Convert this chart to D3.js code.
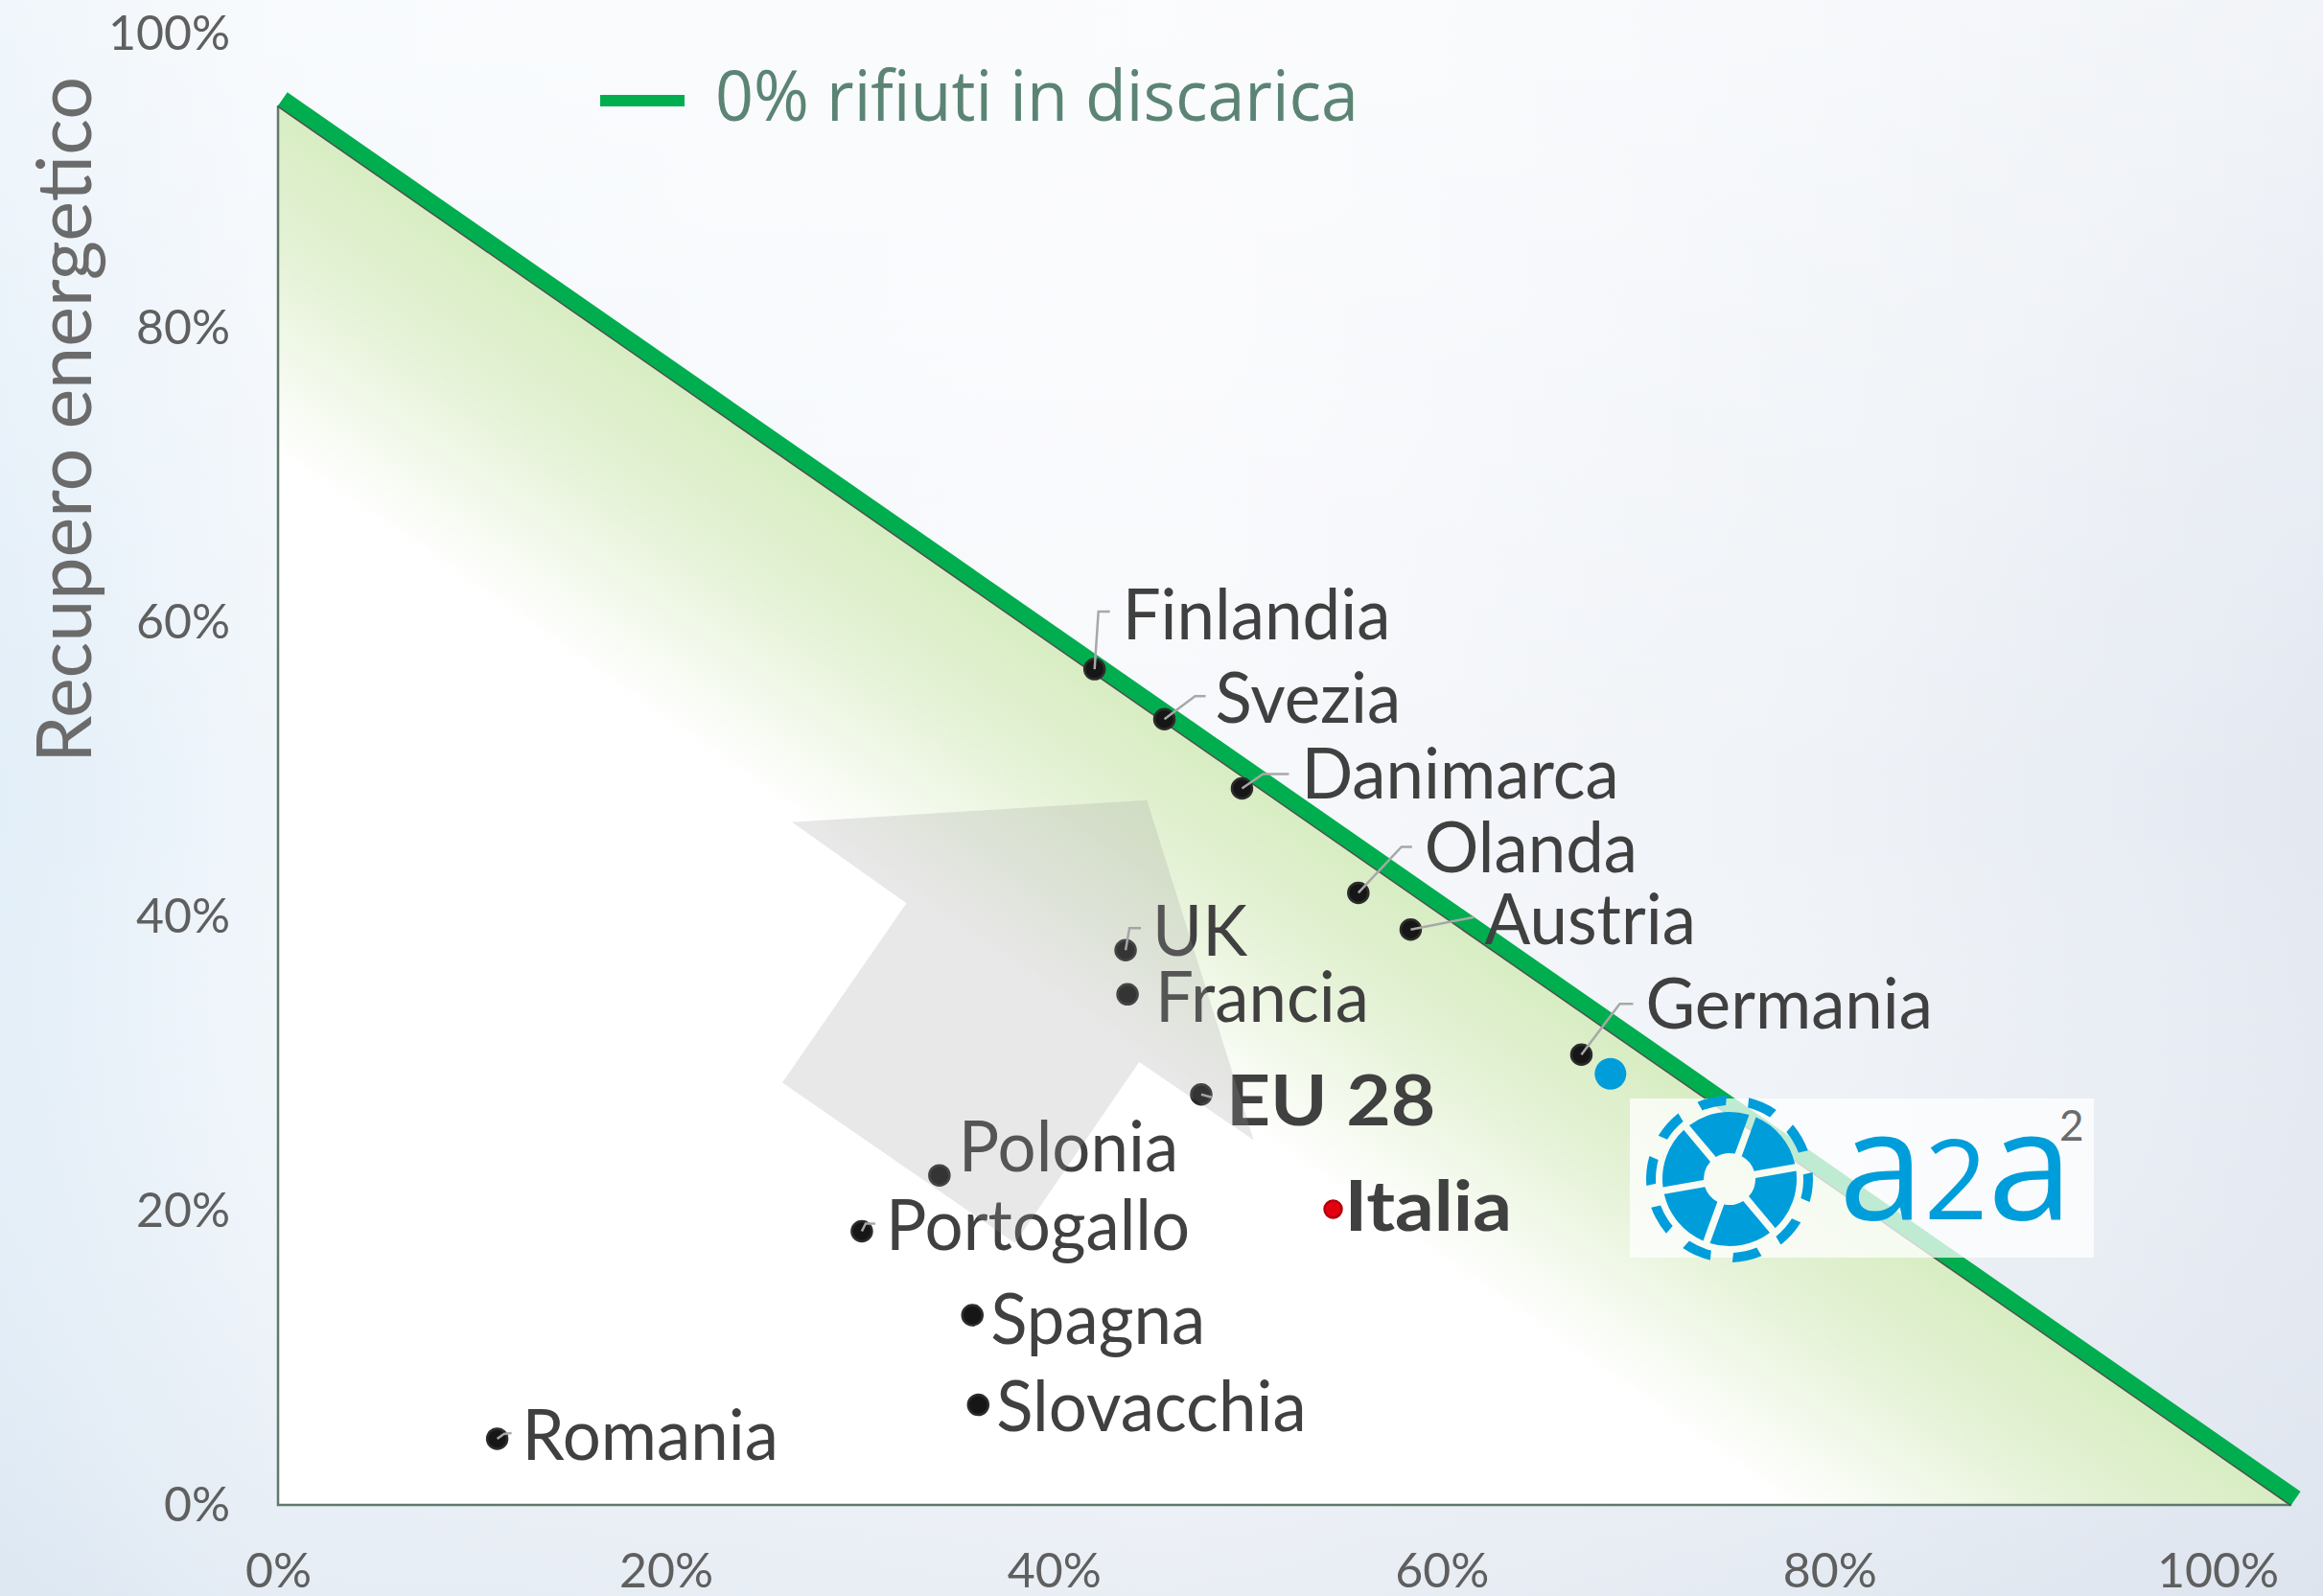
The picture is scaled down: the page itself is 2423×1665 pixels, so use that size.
<!DOCTYPE html>
<html>
<head>
<meta charset="utf-8">
<script src="https://cdn.jsdelivr.net/npm/d3@7"></script>
<style>
  body { margin: 0; background: #f3f7fb; }
  svg { display: block; }
  text { font-family: Lato, 'Open Sans', sans-serif; }
</style>
</head>
<body>
<svg id="chart" width="2423" height="1665"></svg>
<script>
// valori: % riciclo (x) e % recupero energetico (y)
let paesi = ['Finlandia', 'Svezia', 'Danimarca', 'Olanda', 'Austria', 'UK', 'Francia', 'Germania',
  'EU 28', 'Polonia', 'Portogallo', 'Italia', 'Spagna', 'Slovacchia', 'Romania'];
let riciclo = [42.1, 45.7, 49.7, 55.7, 58.4, 43.7, 43.8, 67.2, 47.6, 34.1, 30.1, 54.4, 35.8, 36.1, 11.3];
let recupero = [56.8, 53.4, 48.7, 41.6, 39.1, 37.7, 34.7, 30.6, 27.9, 22.4, 18.6, 20.1, 12.9, 6.8, 4.5];
let evidenziati = ['EU 28', 'Italia'];

let a2aPunto = { x: 68.7, y: 29.3 };

// linea "0% rifiuti in discarica"
let lineaDiscarica = [{ x: 0, y: 95.1 }, { x: 103.8, y: 0 }];

// freccia grigia, in coordinate del grafico
let freccia = [
  { x: 26.5, y: 46.4 }, { x: 44.8, y: 47.9 }, { x: 50.3, y: 24.8 }, { x: 44.4, y: 30.1 },
  { x: 38.0, y: 17.8 }, { x: 26.0, y: 28.7 }, { x: 32.4, y: 40.9 }
];

let tickValori = [0, 20, 40, 60, 80, 100];
let legendaTesto = '0% rifiuti in discarica';
let titoloY = 'Recupero energetico';

// posizione etichette rispetto al punto (dx, dy) e linee guida
let etichette = {
  'Finlandia': { dx: 29, dy: -31, guida: [[4, -60], [16, -60]] },
  'Svezia': { dx: 53, dy: 4, guida: [[32, -24], [43, -24]] },
  'Danimarca': { dx: 62, dy: 11, guida: [[22, -15], [49, -15]] },
  'Olanda': { dx: 69, dy: -21, guida: [[45, -48], [56, -48]] },
  'Austria': { dx: 77, dy: 15, guida: [[66, -13]] },
  'UK': { dx: 28, dy: 6, guida: [[4, -23], [16, -23]] },
  'Francia': { dx: 29, dy: 29, guida: [] },
  'Germania': { dx: 67, dy: -27, guida: [[40, -53], [54, -53]] },
  'EU 28': { dx: 26, dy: 32, guida: [[11, 3]] },
  'Polonia': { dx: 20, dy: -4, guida: [] },
  'Portogallo': { dx: 25, dy: 20, guida: [[4, -8], [14, -8]] },
  'Italia': { dx: 12, dy: 23, guida: [] },
  'Spagna': { dx: 19, dy: 30, guida: [] },
  'Slovacchia': { dx: 19, dy: 27, guida: [] },
  'Romania': { dx: 26, dy: 22, guida: [[7, -5], [15, -6]] }
};

let data = paesi.map((p, i) => ({ nome: p, x: riciclo[i], y: recupero[i] }));

let svg = d3.select('#chart');
let defs = svg.append('defs');

let x = d3.scaleLinear().domain([0, 100]).range([290, 2313]);
let y = d3.scaleLinear().domain([0, 100]).range([1570, 35]);

// sfondo
let bg = defs.append('linearGradient').attr('id', 'bg').attr('x1', 0).attr('x2', 1).attr('y1', 0).attr('y2', 0);
bg.append('stop').attr('offset', 0).attr('stop-color', '#e2eef8');
bg.append('stop').attr('offset', 0.12).attr('stop-color', '#f1f6fb');
bg.append('stop').attr('offset', 0.5).attr('stop-color', '#f8f9fc');
bg.append('stop').attr('offset', 0.8).attr('stop-color', '#eef2f7');
bg.append('stop').attr('offset', 1).attr('stop-color', '#e3e8f1');
let bgv = defs.append('linearGradient').attr('id', 'bgv').attr('x1', 0).attr('x2', 0).attr('y1', 0).attr('y2', 1);
bgv.append('stop').attr('offset', 0).attr('stop-color', '#ffffff').attr('stop-opacity', 0.5);
bgv.append('stop').attr('offset', 0.5).attr('stop-color', '#ffffff').attr('stop-opacity', 0);
bgv.append('stop').attr('offset', 1).attr('stop-color', '#d5deea').attr('stop-opacity', 0.4);
svg.append('rect').attr('width', 2423).attr('height', 1665).attr('fill', 'url(#bg)');
svg.append('rect').attr('width', 2423).attr('height', 1665).attr('fill', 'url(#bgv)');

// triangolo sotto la linea, sfumato verso il verde
let p0 = [x(lineaDiscarica[0].x), y(lineaDiscarica[0].y)];
let p1 = [x(lineaDiscarica[1].x), y(lineaDiscarica[1].y)];
let len = Math.hypot(p1[0] - p0[0], p1[1] - p0[1]);
let dir = [(p1[0] - p0[0]) / len, (p1[1] - p0[1]) / len];
let nrm = [dir[1], -dir[0]]; // verso alto-destra
let mid = [(p0[0] + p1[0]) / 2, (p0[1] + p1[1]) / 2];

let fade = defs.append('linearGradient').attr('id', 'fade').attr('gradientUnits', 'userSpaceOnUse')
  .attr('x1', mid[0]).attr('y1', mid[1])
  .attr('x2', mid[0] - nrm[0] * 300).attr('y2', mid[1] - nrm[1] * 300);
fade.append('stop').attr('offset', 0).attr('stop-color', '#d8edc3');
fade.append('stop').attr('offset', 0.4).attr('stop-color', '#e5f2d6');
fade.append('stop').attr('offset', 1).attr('stop-color', '#ffffff');

let tri = [[x(0), y(0)], p0, p1];
svg.append('path')
  .attr('d', d3.line()(tri) + 'Z')
  .attr('fill', 'url(#fade)');
// bordi sinistro e inferiore
svg.append('path')
  .attr('d', d3.line()([p0, [x(0), y(0)], p1]))
  .attr('fill', 'none')
  .attr('stroke', '#5f7a6b')
  .attr('stroke-width', 2.5);
// ombra scura della linea
svg.append('line')
  .attr('x1', p0[0]).attr('y1', p0[1]).attr('x2', p1[0]).attr('y2', p1[1])
  .attr('stroke', '#4f4f4f').attr('stroke-width', 3);
// linea verde
let off = 8.5;
svg.append('line')
  .attr('x1', p0[0] + nrm[0] * off).attr('y1', p0[1] + nrm[1] * off)
  .attr('x2', p1[0] + nrm[0] * off).attr('y2', p1[1] + nrm[1] * off)
  .attr('stroke', '#00ae4f').attr('stroke-width', 17);

// assi
let yAxis = d3.axisLeft(y).tickValues(tickValori).tickFormat(d => d + '%').tickSize(0).tickPadding(50);
let gy = svg.append('g').attr('transform', `translate(${x(0)},0)`).call(yAxis);
let xAxis = d3.axisBottom(x).tickValues(tickValori).tickFormat(d => d + '%').tickSize(0).tickPadding(50);
let gx = svg.append('g').attr('transform', `translate(0,${y(0)})`).call(xAxis);
[gx, gy].forEach(g => {
  g.select('.domain').remove();
  g.selectAll('text')
    .style('font-family', 'Lato, sans-serif')
    .style('font-size', '50px')
    .attr('fill', '#5f5f5f');
});

svg.append('text')
  .attr('transform', 'translate(95,438) rotate(-90)')
  .attr('text-anchor', 'middle')
  .attr('textLength', 716)
  .attr('lengthAdjust', 'spacingAndGlyphs')
  .style('font-size', '80px')
  .attr('fill', '#6b6b6b')
  .text(titoloY);

// legenda
svg.append('line')
  .attr('x1', 626).attr('x2', 714).attr('y1', 105).attr('y2', 105)
  .attr('stroke', '#00ae4f').attr('stroke-width', 12);
svg.append('text')
  .attr('x', 746).attr('y', 126)
  .attr('textLength', 671)
  .attr('lengthAdjust', 'spacingAndGlyphs')
  .style('font-family', "'Open Sans', sans-serif")
  .style('font-size', '74px')
  .attr('fill', '#5b8474')
  .text(legendaTesto);

// punti
let punti = svg.append('g');
punti.selectAll('circle')
  .data(data)
  .join('circle')
  .attr('cx', d => x(d.x))
  .attr('cy', d => y(d.y))
  .attr('r', d => d.nome == 'Italia' ? 9 : 10.5)
  .attr('fill', d => d.nome == 'Italia' ? '#e3000f' : '#161616')
  .attr('stroke', d => d.nome == 'Italia' ? '#b3000c' : '#2c2c2c')
  .attr('stroke-width', 2.5);

punti.selectAll('path')
  .data(data.filter(d => etichette[d.nome].guida.length > 0))
  .join('path')
  .attr('d', d => {
    let cx = x(d.x), cy = y(d.y);
    let pts = [[cx, cy]].concat(etichette[d.nome].guida.map(g => [cx + g[0], cy + g[1]]));
    return d3.line()(pts);
  })
  .attr('fill', 'none')
  .attr('stroke', '#a8a8a8')
  .attr('stroke-width', 2.5);

// il font originale è più stretto nel normale e più largo nel grassetto
punti.selectAll('text')
  .data(data)
  .join('text')
  .attr('transform', d => {
    let bold = evidenziati.includes(d.nome);
    return `translate(${x(d.x) + etichette[d.nome].dx},${y(d.y) + etichette[d.nome].dy}) scale(${bold ? 1.1 : 0.97},1)`;
  })
  .style('font-size', '73px')
  .style('font-weight', d => evidenziati.includes(d.nome) ? 700 : 400)
  .attr('fill', '#404040')
  .text(d => d.nome);

// punto a2a
svg.append('circle')
  .attr('cx', x(a2aPunto.x)).attr('cy', y(a2aPunto.y))
  .attr('r', 16.5)
  .attr('fill', '#009ddb');

// freccia semitrasparente sopra i punti
svg.append('path')
  .attr('d', d3.line().x(d => x(d.x)).y(d => y(d.y))(freccia) + 'Z')
  .attr('fill', '#9a9a9a')
  .attr('fill-opacity', 0.23);

// logo a2a
let logo = svg.append('g');
logo.append('rect')
  .attr('x', 1700).attr('y', 1146).attr('width', 484).attr('height', 166)
  .attr('fill', '#ffffff').attr('fill-opacity', 0.75);
let emb = logo.append('g').attr('transform', 'translate(1804,1230)');
let pieInterno = d3.pie().value(1).padAngle(0.1).startAngle(0.35).endAngle(0.35 + 2 * Math.PI)(d3.range(6));
emb.selectAll('path.in')
  .data(pieInterno)
  .join('path')
  .attr('class', 'in')
  .attr('d', d3.arc().innerRadius(27).outerRadius(70))
  .attr('fill', '#009ddb');
let pieEsterno = d3.pie().value(1).padAngle(0.2).startAngle(0.1).endAngle(0.1 + 2 * Math.PI)(d3.range(10));
emb.selectAll('path.out')
  .data(pieEsterno)
  .join('path')
  .attr('class', 'out')
  .attr('d', d3.arc().innerRadius(77).outerRadius(87))
  .attr('fill', '#009ddb');
let marchio = logo.append('text')
  .attr('x', 1918).attr('y', 1272)
  .attr('fill', '#009ddb')
  .style('font-family', "'Open Sans', sans-serif");
marchio.append('tspan').style('font-size', '160px').text('a');
marchio.append('tspan').style('font-size', '116px').text('2');
marchio.append('tspan').style('font-size', '160px').text('a');
logo.append('text')
  .attr('x', 2148).attr('y', 1190)
  .attr('fill', '#6b6b6b')
  .style('font-size', '44px')
  .text('2');
</script>
</body>
</html>
